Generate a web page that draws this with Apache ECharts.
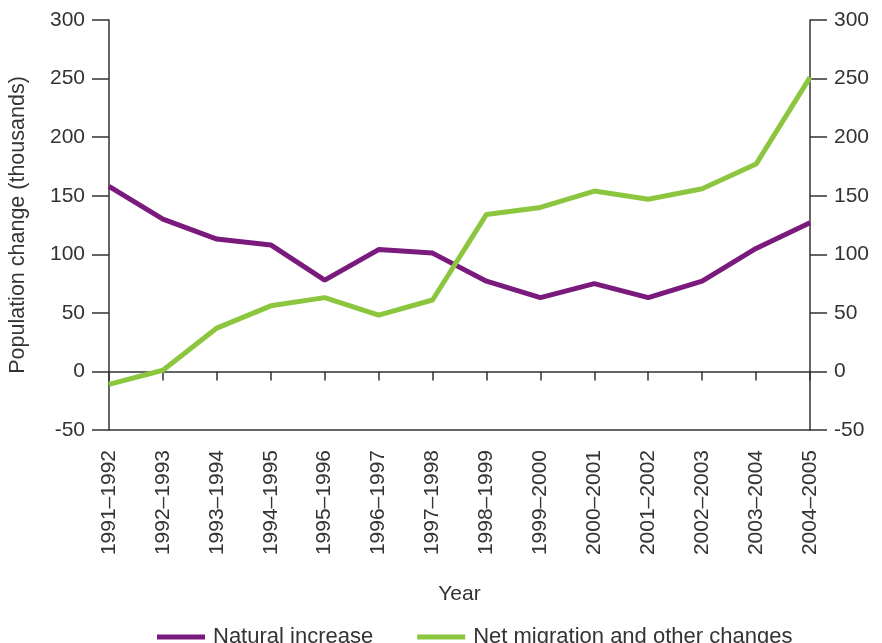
<!DOCTYPE html>
<html>
<head>
<meta charset="utf-8">
<script src="https://cdn.jsdelivr.net/npm/echarts@6/dist/echarts.min.js"></script>
<style>
  html, body { margin: 0; padding: 0; background: #fff; }
  #main { width: 882px; height: 643px; }
</style>
</head>
<body>
<div id="main"></div>
<script>
var years = ['1991–1992', '1992–1993', '1993–1994', '1994–1995', '1995–1996', '1996–1997', '1997–1998',
  '1998–1999', '1999–2000', '2000–2001', '2001–2002', '2002–2003', '2003–2004', '2004–2005'];
var naturalIncrease = [158, 130, 113, 108, 78, 104, 101, 77, 63, 75, 63, 77, 105, 127];
var netMigration = [-11, 1, 37, 56, 63, 48, 61, 134, 140, 154, 147, 156, 177, 251];
var yTicks = { min: -50, max: 300, interval: 50 };

var axisColor = '#333';
var font = 'Liberation Sans, Arial, sans-serif';

var myChart = echarts.init(document.getElementById('main'));

function yAxisFor(pos) {
  return {
    type: 'value',
    position: pos,
    min: yTicks.min,
    max: yTicks.max,
    interval: yTicks.interval,
    splitLine: { show: false },
    axisLine: { show: true, lineStyle: { color: axisColor, width: 1.5 } },
    axisTick: { show: true, length: 17, lineStyle: { color: axisColor, width: 1.5 } },
    axisLabel: { color: '#333', fontSize: 21, fontFamily: font, margin: 24 }
  };
}

var left = yAxisFor('left');
left.name = 'Population change (thousands)';
left.nameLocation = 'middle';
left.nameGap = 80;
left.nameTextStyle = { color: '#333', fontSize: 21.5, fontFamily: font };
var right = yAxisFor('right');

myChart.setOption({
  animation: false,
  grid: { left: 109, right: 72, top: 20, bottom: 213, outerBoundsMode: 'none', containLabel: false },
  legend: {
    left: 152,
    top: 621,
    itemWidth: 48,
    itemHeight: 5,
    itemGap: 44,
    icon: 'rect',
    textStyle: { color: '#333', fontSize: 22, fontFamily: font, padding: [0, 0, 0, 3] },
    data: ['Natural increase', 'Net migration and other changes']
  },
  xAxis: [
    {
      type: 'category',
      data: years,
      boundaryGap: false,
      position: 'bottom',
      name: 'Year',
      nameLocation: 'middle',
      nameGap: 154,
      nameTextStyle: { color: '#333', fontSize: 21, fontFamily: font },
      axisLine: { onZero: false, lineStyle: { color: axisColor, width: 1.5 } },
      axisTick: { show: false },
      axisLabel: { rotate: 90, color: '#333', fontSize: 21, fontFamily: font, margin: 20, interval: 0 }
    },
    {
      type: 'category',
      data: years,
      boundaryGap: false,
      position: 'top',
      axisLine: { onZero: true, onZeroAxisIndex: 0, lineStyle: { color: axisColor, width: 1.5 } },
      axisTick: { show: true, inside: true, length: 9, alignWithLabel: true, interval: 0,
        lineStyle: { color: axisColor, width: 1.5 } },
      axisLabel: { show: false }
    }
  ],
  yAxis: [left, right],
  series: [
    {
      name: 'Natural increase',
      type: 'line',
      data: naturalIncrease,
      showSymbol: false,
      color: '#7a1a7d',
      lineStyle: { width: 5, color: '#7a1a7d' }
    },
    {
      name: 'Net migration and other changes',
      type: 'line',
      data: netMigration,
      showSymbol: false,
      color: '#8cc63f',
      lineStyle: { width: 5, color: '#8cc63f' }
    }
  ]
});
</script>
</body>
</html>
